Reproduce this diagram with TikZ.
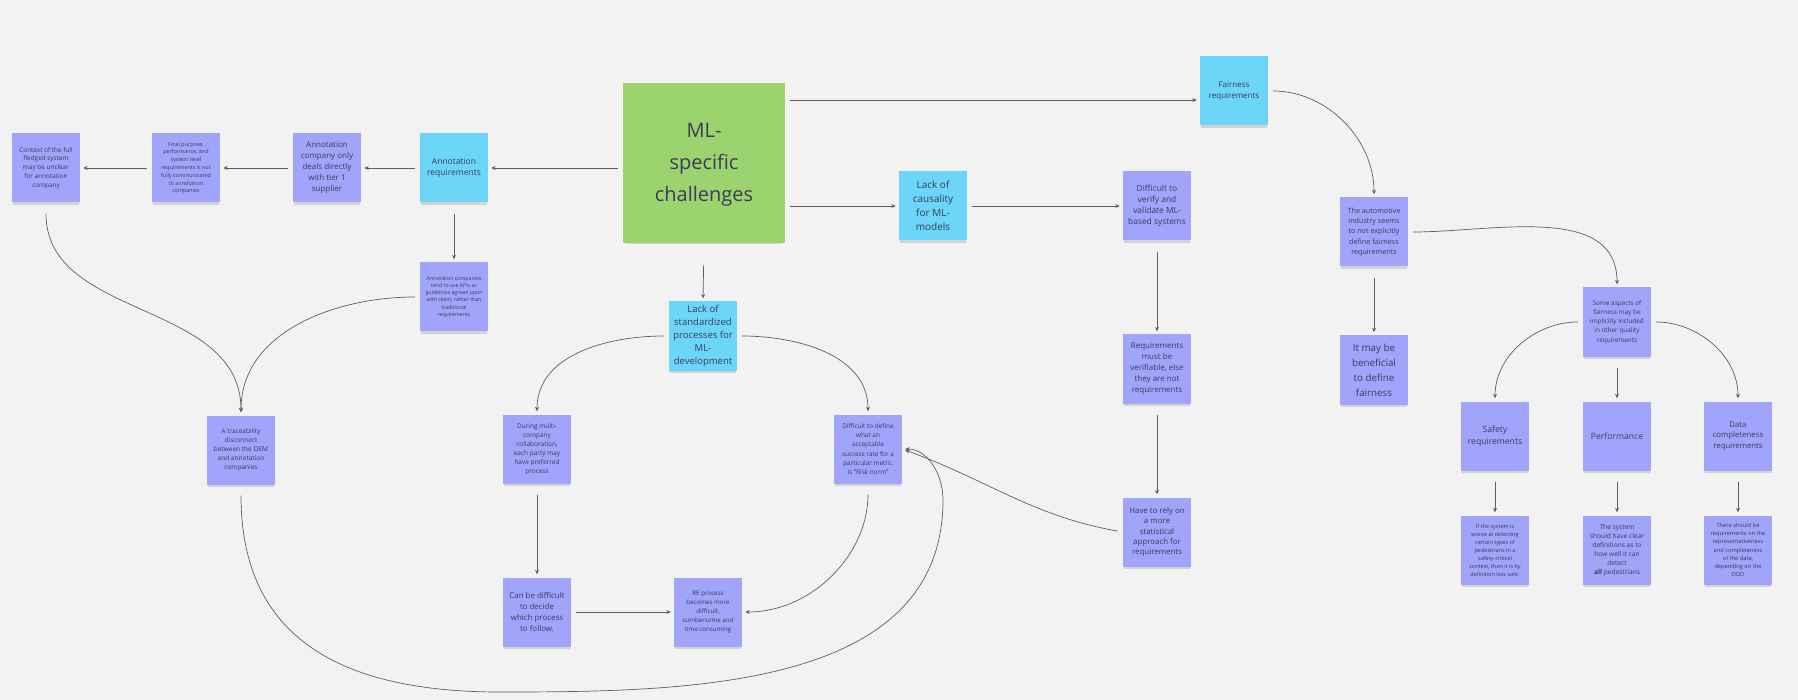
\documentclass[tikz,border=0pt]{standalone}
\usepackage{fontspec}
\setmainfont{Open Sans}
\usetikzlibrary{arrows.meta,shadows}
\definecolor{board}{RGB}{242,242,242}
\definecolor{notevio}{RGB}{160,164,250}
\definecolor{notecyan}{RGB}{108,214,248}
\definecolor{notegreen}{RGB}{155,211,110}
\definecolor{notetext}{RGB}{58,60,92}
\definecolor{linegray}{RGB}{95,95,95}
\begin{document}
\begin{tikzpicture}[x=1pt,y=-1pt,
  note/.style={fill=notevio, minimum width=68pt, minimum height=69pt, inner sep=0pt,
    align=center, text=notetext,
    drop shadow={shadow xshift=0pt, shadow yshift=-4pt, shadow scale=0.96, opacity=0.28}},
  cyannote/.style={note, fill=notecyan},
  fs/.style 2 args={font=\fontsize{#1}{#2}\selectfont},
  link/.style={draw=linegray, line width=0.7pt, -{Stealth[length=4.5pt,width=4pt]},
    shorten >=3pt, shorten <=5pt},
  vlink/.style={link, shorten <=11pt}]
\fill[board] (0,0) rectangle (1798,700);
\node (ml) at (704,163) [note, fill=notegreen, minimum width=162pt, minimum height=160pt, fs={20}{32}] {\raisebox{-4pt}{\begin{tabular}{@{}c@{}}ML-\\specific\\challenges\end{tabular}}};
\node (areq) at (454,168) [cyannote, fs={8.5}{11.5}] {Annotation\\requirements};
\node (acd) at (327,168) [note, fs={8}{11}] {Annotation\\company only\\deals directly\\with tier 1\\supplier};
\node (fin) at (186,168) [note, fs={5.4}{7.8}] {Final purpose,\\performance, and\\system level\\requirements is not\\fully communicated\\to annotation\\companies};
\node (ctx) at (46,168) [note, fs={6.4}{8.8}] {Context of the full\\fledged system\\may be unclear\\for annotation\\company};
\node (kpi) at (454,297) [note, fs={5.2}{7.3}] {Annotation companies\\tend to use KPIs or\\guidelines agreed upon\\with client, rather than\\traditional\\requirements};
\node (trace) at (241,450) [note, fs={6.5}{9}] {A traceability\\disconnect\\between the OEM\\and annotation\\companies};
\node (lack) at (703,336) [cyannote, fs={9.5}{13}] {Lack of\\standardized\\processes for\\ML-\\development};
\node (dur) at (537,449) [note, fs={6.5}{9}] {During multi-\\company\\collaboration,\\each party may\\have preferred\\process};
\node (diffdef) at (868,449) [note, fs={6.4}{9.2}] {Difficult to define\\what an\\acceptable\\success rate for a\\particular metric\\is "Risk norm"};
\node (can) at (537,612) [note, fs={7.9}{11}] {Can be difficult\\to decide\\which process\\to follow.};
\node (re) at (708,612) [note, fs={6.2}{9}] {RE process\\becomes more\\difficult,\\cumbersome and\\time consuming};
\node (caus) at (933,206) [cyannote, fs={10}{14}] {Lack of\\causality\\for ML-\\models};
\node (ver) at (1157,206) [note, fs={8.4}{11}] {Difficult to\\verify and\\validate ML-\\based systems};
\node (must) at (1157,369) [note, fs={8}{11}] {Requirements\\must be\\verifiable, else\\they are not\\requirements};
\node (rely) at (1157,532) [note, fs={7.9}{10.4}] {Have to rely on\\a more\\statistical\\approach for\\requirements};
\node (fair) at (1234,91) [cyannote, fs={8}{11}] {Fairness\\requirements};
\node (auto) at (1374,232) [note, fs={7.2}{10.3}] {The automotive\\industry seems\\to not explicitly\\define fairness\\requirements};
\node (bene) at (1374,370) [note, fs={9.8}{15}] {It may be\\beneficial\\to define\\fairness};
\node (asp) at (1617,322) [note, fs={6.4}{9.2}] {Some aspects of\\fairness may be\\implicitly included\\in other quality\\requirements};
\node (safe) at (1495,436) [note, fs={8.6}{12}] {Safety\\requirements};
\node (perf) at (1617,436) [note, fs={8.6}{12}] {Performance};
\node (data) at (1738,436) [note, fs={7.8}{10.7}] {Data\\completeness\\requirements};
\node (safex) at (1495,550) [note, fs={5.5}{8}] {If the system is\\worse at detecting\\certain types of\\pedestrians in a\\safety-critical\\context, then it is by\\definition less safe.};
\node (perfx) at (1617,550) [note, fs={6.6}{9}] {The system\\should have clear\\definitions as to\\how well it can\\detect\\\textbf{all} pedestrians};
\node (datax) at (1738,550) [note, fs={5.7}{8.2}] {There should be\\requirements on the\\representativeness\\and completeness\\of the data,\\depending on the\\ODD};
\coordinate (fairin) at ([yshift=-9pt]fair.west);
\coordinate (loopbot) at (500,692);
\coordinate (loopright) at (943,500);
% annotation branch
\draw[link] (ml.west |- areq.east) -- (areq.east);
\draw[link] (areq.west) -- (acd.east);
\draw[link] (acd.west) -- (fin.east);
\draw[link] (fin.west) -- (ctx.east);
\draw[vlink] (areq.south) -- (kpi.north);
\draw[vlink] (ctx.south) .. controls (46,320) and (241,300) .. (trace.north);
\draw[link] (kpi.west) to[out=180,in=90] (trace.north);
\draw[vlink] (trace.south) to[out=-90,in=180,looseness=1.2] (loopbot) to[out=0,in=-90] (loopright) to[out=90,in=0] (diffdef.east);
% process branch
\draw[link, shorten <=22pt] (ml.south) -- (lack.north);
\draw[link] (lack.west) to[out=180,in=90] (dur.north);
\draw[link] (lack.east) to[out=0,in=90] (diffdef.north);
\draw[vlink] (dur.south) -- (can.north);
\draw[link] (can.east) -- (re.west);
\draw[vlink] (diffdef.south) to[out=-90,in=0] (re.east);
% causality branch
\draw[link] (ml.east |- caus.west) -- (caus.west);
\draw[link] (caus.east) -- (ver.west);
\draw[vlink] (ver.south) -- (must.north);
\draw[vlink] (must.south) -- (rely.north);
\draw[link] (rely.west) to[out=170,in=-20] (diffdef.east);
% fairness branch
\draw[link] (ml.east |- fairin) -- (fairin);
\draw[link] (fair.east) to[out=0,in=90] (auto.north);
\draw[vlink] (auto.south) -- (bene.north);
\draw[link] (auto.east) to[out=0,in=90] (asp.north);
\draw[link] (asp.west) to[out=180,in=90] (safe.north);
\draw[vlink] (asp.south) -- (perf.north);
\draw[link] (asp.east) to[out=0,in=90] (data.north);
\draw[vlink] (safe.south) -- (safex.north);
\draw[vlink] (perf.south) -- (perfx.north);
\draw[vlink] (data.south) -- (datax.north);
\end{tikzpicture}
\end{document}
